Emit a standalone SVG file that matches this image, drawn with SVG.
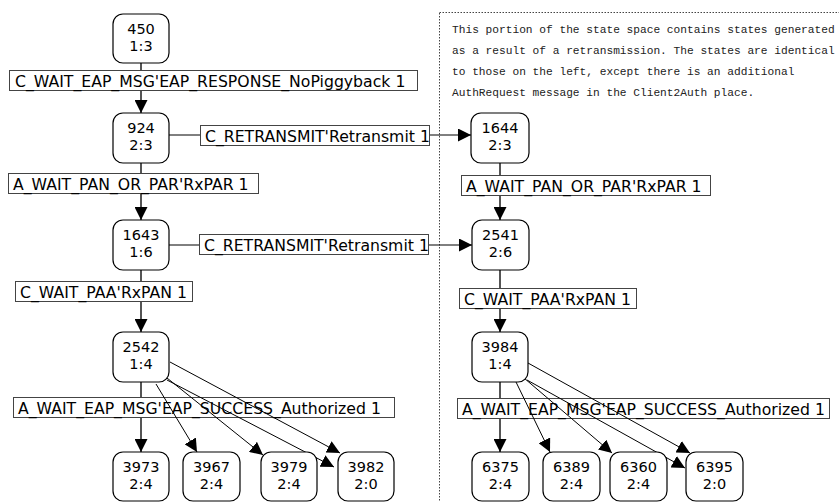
<svg xmlns="http://www.w3.org/2000/svg" width="839" height="502" viewBox="0 0 839 502">
<style>
.node rect{fill:#fff;stroke:#000;stroke-width:1.2}
.node text{font-family:"DejaVu Sans",Verdana,sans-serif;font-size:14.5px;fill:#000;text-anchor:middle}
.lbl rect{fill:#fff;stroke:#444;stroke-width:1}
.lbl text{font-family:"DejaVu Sans",Verdana,sans-serif;font-size:15.7px;fill:#000}
.v{stroke:#555;stroke-width:2;fill:none}
.d{stroke:#000;stroke-width:1;fill:none}
.note{font-family:"Liberation Mono","Courier New",monospace;font-size:11.2px;fill:#222}
</style>
<defs>
<marker id="ah" markerUnits="userSpaceOnUse" markerWidth="13" markerHeight="13" refX="13" refY="6.5" orient="auto" viewBox="0 0 13 13">
<path d="M0,0 L13,6.5 L0,13 z" fill="#000"/>
</marker>
</defs>
<rect x="439.5" y="12.5" width="410" height="500" fill="none" stroke="#444" stroke-width="1" stroke-dasharray="1.5,1.5"/>
<text class="note" x="452" y="32.5">This portion of the state space contains states generated</text>
<text class="note" x="452" y="53.5">as a result of a retransmission. The states are identical</text>
<text class="note" x="452" y="74.5">to those on the left, except there is an additional</text>
<text class="note" x="452" y="95.5">AuthRequest message in the Client2Auth place.</text>
<g id="connectors">
<path class="v" d="M141,63 V113" marker-end="url(#ah)"/>
<path class="v" d="M141,163 V220" marker-end="url(#ah)"/>
<path class="v" d="M141,270 V332" marker-end="url(#ah)"/>
<path class="v" d="M141,382 V452" marker-end="url(#ah)"/>
<path class="v" d="M500,163 V220" marker-end="url(#ah)"/>
<path class="v" d="M500,270 V332" marker-end="url(#ah)"/>
<path class="v" d="M500,382 V452" marker-end="url(#ah)"/>
<path class="d" d="M169,135 H471" marker-end="url(#ah)"/>
<path class="d" d="M169,245 H472" marker-end="url(#ah)"/>
</g>
<g id="labels">
<g class="lbl"><rect x="9.5" y="70.5" width="408" height="20"/><text x="15" y="86.5">C_WAIT_EAP_MSG'EAP_RESPONSE_NoPiggyback 1</text></g>
<g class="lbl"><rect x="200.5" y="125.5" width="229" height="20"/><text x="205" y="141.5">C_RETRANSMIT'Retransmit 1</text></g>
<g class="lbl"><rect x="8.5" y="173.5" width="250" height="20"/><text x="13" y="189.5">A_WAIT_PAN_OR_PAR'RxPAR 1</text></g>
<g class="lbl"><rect x="199.5" y="234.5" width="229" height="20"/><text x="204" y="250.5">C_RETRANSMIT'Retransmit 1</text></g>
<g class="lbl"><rect x="15.5" y="281.5" width="177" height="20"/><text x="20" y="297.5">C_WAIT_PAA'RxPAN 1</text></g>
<g class="lbl"><rect x="13.5" y="397.5" width="381" height="20"/><text x="18" y="413.5">A_WAIT_EAP_MSG'EAP_SUCCESS_Authorized 1</text></g>
<g class="lbl"><rect x="461.5" y="175.5" width="249" height="20"/><text x="466" y="191.5">A_WAIT_PAN_OR_PAR'RxPAR 1</text></g>
<g class="lbl"><rect x="459.5" y="288.5" width="177" height="20"/><text x="464" y="304.5">C_WAIT_PAA'RxPAN 1</text></g>
<g class="lbl"><rect x="457.5" y="398.5" width="372" height="20"/><text x="462" y="414.5">A_WAIT_EAP_MSG'EAP_SUCCESS_Authorized 1</text></g>
</g>
<g id="diag">
<path class="d" d="M156,384 L197,452" marker-end="url(#ah)"/>
<path class="d" d="M167,378 L263,455" marker-end="url(#ah)"/>
<path class="d" d="M167,380 L334,467" marker-end="url(#ah)"/>
<path class="d" d="M170,362 L340,453" marker-end="url(#ah)"/>
<path class="d" d="M516,382 L550,452" marker-end="url(#ah)"/>
<path class="d" d="M524,378 L612,453" marker-end="url(#ah)"/>
<path class="d" d="M527,380 L685,468" marker-end="url(#ah)"/>
<path class="d" d="M528,363 L690,453" marker-end="url(#ah)"/>
</g>
<g id="n450" class="node"><rect x="113" y="14" width="56" height="49" rx="10"/><text x="141" y="33.5">450</text><text x="141" y="51">1:3</text></g>
<g id="n924" class="node"><rect x="113" y="113" width="56" height="50" rx="10"/><text x="141" y="132.5">924</text><text x="141" y="150">2:3</text></g>
<g id="n1643" class="node"><rect x="113" y="220" width="56" height="50" rx="10"/><text x="141" y="239.5">1643</text><text x="141" y="257">1:6</text></g>
<g id="n2542" class="node"><rect x="113" y="332" width="56" height="50" rx="10"/><text x="141" y="351.5">2542</text><text x="141" y="369">1:4</text></g>
<g id="n3973" class="node"><rect x="113" y="452" width="56" height="49" rx="10"/><text x="141" y="471.5">3973</text><text x="141" y="489">2:4</text></g>
<g id="n3967" class="node"><rect x="183" y="452" width="57" height="49" rx="10"/><text x="211.5" y="471.5">3967</text><text x="211.5" y="489">2:4</text></g>
<g id="n3979" class="node"><rect x="261" y="452" width="56" height="49" rx="10"/><text x="289" y="471.5">3979</text><text x="289" y="489">2:4</text></g>
<g id="n3982" class="node"><rect x="338" y="452" width="56" height="49" rx="10"/><text x="366" y="471.5">3982</text><text x="366" y="489">2:0</text></g>
<g id="n1644" class="node"><rect x="471" y="113" width="58" height="50" rx="10"/><text x="500" y="132.5">1644</text><text x="500" y="150">2:3</text></g>
<g id="n2541" class="node"><rect x="472" y="220" width="57" height="50" rx="10"/><text x="500.5" y="239.5">2541</text><text x="500.5" y="257">2:6</text></g>
<g id="n3984" class="node"><rect x="472" y="332" width="56" height="50" rx="10"/><text x="500" y="351.5">3984</text><text x="500" y="369">1:4</text></g>
<g id="n6375" class="node"><rect x="472" y="452" width="57" height="49" rx="10"/><text x="500.5" y="471.5">6375</text><text x="500.5" y="489">2:4</text></g>
<g id="n6389" class="node"><rect x="543" y="452" width="57" height="49" rx="10"/><text x="571.5" y="471.5">6389</text><text x="571.5" y="489">2:4</text></g>
<g id="n6360" class="node"><rect x="610" y="452" width="57" height="49" rx="10"/><text x="638.5" y="471.5">6360</text><text x="638.5" y="489">2:4</text></g>
<g id="n6395" class="node"><rect x="686" y="452" width="57" height="49" rx="10"/><text x="714.5" y="471.5">6395</text><text x="714.5" y="489">2:0</text></g>
</svg>
